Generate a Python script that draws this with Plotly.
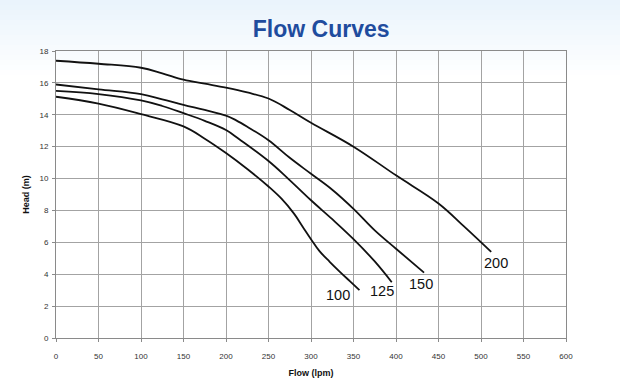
import plotly.graph_objects as go

# ---- data ----
flow_100 = [0, 50, 100, 150, 175, 200, 225, 250, 265, 280, 290, 300, 310, 322, 334, 346, 357]
head_100 = [15.13, 14.7, 14.04, 13.27, 12.5, 11.6, 10.6, 9.5, 8.75, 7.8, 7.0, 6.2, 5.45, 4.78, 4.15, 3.55, 3.0]

flow_125 = [0, 50, 100, 125, 150, 175, 200, 216, 250, 273, 300, 325, 350, 375, 395]
head_125 = [15.5, 15.3, 14.9, 14.55, 14.1, 13.62, 13.04, 12.45, 11.1, 10.0, 8.64, 7.45, 6.2, 4.8, 3.5]

flow_150 = [0, 50, 100, 125, 150, 175, 200, 212, 225, 250, 275, 300, 325, 350, 375, 400, 433]
head_150 = [15.9, 15.6, 15.3, 14.97, 14.62, 14.3, 13.95, 13.65, 13.25, 12.4, 11.3, 10.3, 9.3, 8.1, 6.75, 5.6, 4.1]

flow_200 = [0, 50, 100, 125, 150, 175, 200, 225, 250, 275, 300, 350, 400, 450, 480, 512]
head_200 = [17.39, 17.2, 16.95, 16.6, 16.2, 15.95, 15.7, 15.4, 15.02, 14.3, 13.5, 12.0, 10.2, 8.44, 7.0, 5.4]

curve_names = ["100", "125", "150", "200"]
label_flow = [332, 383, 429, 518]
label_head = [2.7, 2.95, 3.37, 4.7]

x_ticks = list(range(0, 601, 50))
y_ticks = list(range(0, 19, 2))

series = [(flow_100, head_100), (flow_125, head_125), (flow_150, head_150), (flow_200, head_200)]

fig = go.Figure()
for name, (fx, hy) in zip(curve_names, series):
    fig.add_trace(go.Scatter(x=fx, y=hy, mode="lines", name=name,
                             line=dict(color="#111111", width=1.8, shape="spline", smoothing=1.1),
                             showlegend=False, hoverinfo="skip"))

for name, lx, ly in zip(curve_names, label_flow, label_head):
    fig.add_annotation(x=lx, y=ly, xref="x", yref="y", text=name, showarrow=False,
                       font=dict(family="Liberation Sans, Arial, sans-serif", size=14.5, color="#111111"))

# light blue gradient at the top of the page
top_rgb = (234, 244, 252)
n = 16
plot_top_px, plot_bottom_px = 51, 338
span = plot_bottom_px - plot_top_px
grad_end_px = 80
for i in range(n):
    y0px = grad_end_px * i / n
    y1px = grad_end_px * (i + 1) / n
    t = i / (n - 1)
    r = int(round(top_rgb[0] + (255 - top_rgb[0]) * t))
    g = int(round(top_rgb[1] + (255 - top_rgb[1]) * t))
    b = int(round(top_rgb[2] + (255 - top_rgb[2]) * t))
    fig.add_shape(type="rect", xref="paper", yref="paper",
                  x0=-0.2, x1=1.2,
                  y0=(plot_bottom_px - y1px) / span, y1=(plot_bottom_px - y0px) / span,
                  fillcolor=f"rgb({r},{g},{b})", line=dict(width=0), layer="below")

tick_font = dict(family="Liberation Sans, Arial, sans-serif", size=8, color="#333333")
title_font = dict(family="Liberation Sans, Arial, sans-serif", size=9, color="#111111", weight="bold")

fig.update_layout(
    width=620, height=386, autosize=False,
    margin=dict(l=56, r=54, t=51, b=48, autoexpand=False),
    paper_bgcolor="white", plot_bgcolor="rgba(0,0,0,0)",
    title=dict(text="Flow Curves", x=0.518, xref="container", xanchor="center",
               y=1 - 28.5 / 386, yref="container", yanchor="middle", automargin=False,
               font=dict(family="Liberation Sans Narrow, Arial Narrow, Liberation Sans, sans-serif",
                         size=23, color="#1f4c9e", weight="bold")),
    xaxis=dict(range=[0, 600], tickvals=x_ticks, ticktext=[str(v) for v in x_ticks],
               showgrid=True, gridcolor="#a3a3a3", gridwidth=1, automargin=False,
               showline=True, linecolor="#8a8a8a", linewidth=1, mirror=True,
               ticks="outside", ticklen=3, tickcolor="#8a8a8a", ticklabelstandoff=7,
               tickfont=tick_font, zeroline=False,
               title=dict(text="Flow (lpm)", font=title_font, standoff=10)),
    yaxis=dict(range=[0, 18], tickvals=y_ticks, ticktext=[str(v) for v in y_ticks],
               showgrid=True, gridcolor="#a3a3a3", gridwidth=1, automargin=False,
               showline=True, linecolor="#8a8a8a", linewidth=1, mirror=True,
               ticks="outside", ticklen=3, tickcolor="#8a8a8a", ticklabelstandoff=2,
               tickfont=tick_font, zeroline=False,
               title=dict(text="Head (m)", font=title_font, standoff=8)),
)

fig.write_html("out.html", config={"displayModeBar": False},
               post_script="document.body.style.margin='0';document.body.style.padding='0';")
